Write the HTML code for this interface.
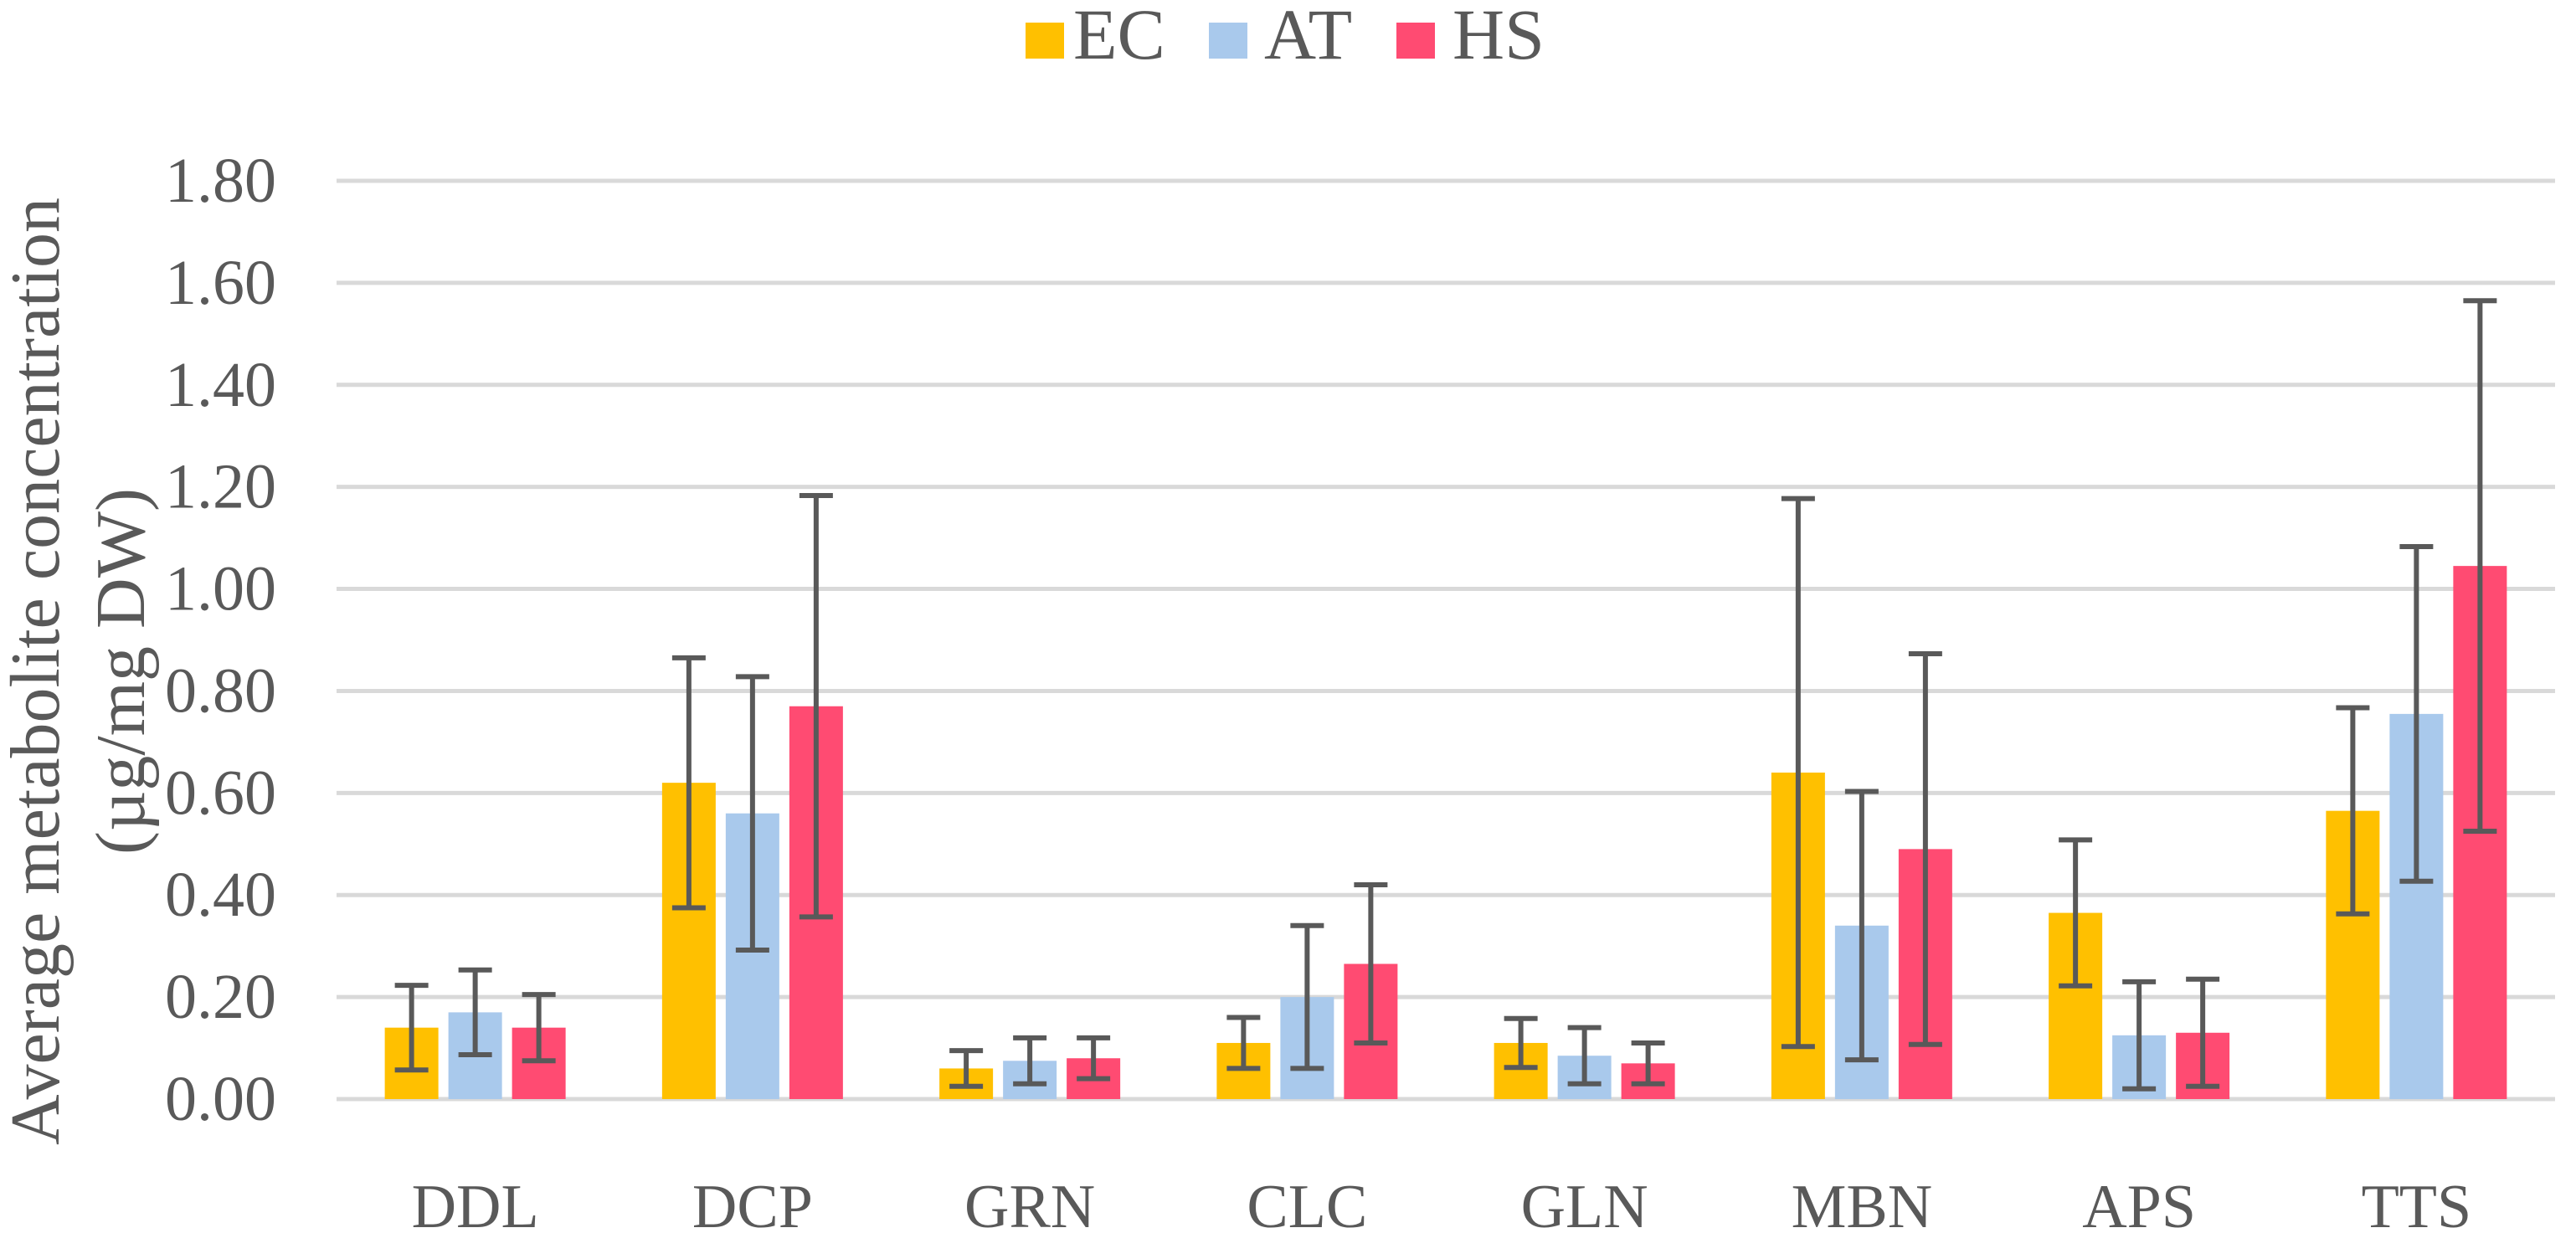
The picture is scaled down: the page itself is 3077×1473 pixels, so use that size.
<!DOCTYPE html>
<html><head><meta charset="utf-8">
<style>
html,body{margin:0;padding:0;background:#fff;}
svg{display:block;font-family:"Liberation Serif",serif;}
</style></head>
<body>
<svg id="chart" width="3077" height="1473" viewBox="0 0 3077 1473" xmlns="http://www.w3.org/2000/svg">
<g id="legend">
  <g><rect x="1225" y="27" width="46" height="43" fill="#FFC000"/><text x="1282" y="70" font-size="86" fill="#595959">EC</text></g>
  <g><rect x="1444" y="27" width="46" height="43" fill="#A9C9EC"/><text x="1510" y="70" font-size="86" fill="#595959">AT</text></g>
  <g><rect x="1668" y="27" width="46" height="43" fill="#FF4B72"/><text x="1735" y="70" font-size="86" fill="#595959">HS</text></g>
</g>
<text transform="translate(70,802) rotate(-90)" text-anchor="middle" font-size="84" fill="#595959">Average metabolite concentration</text>
<text transform="translate(172,802) rotate(-90)" text-anchor="middle" font-size="84" fill="#595959">(µg/mg DW)</text>
<g id="grid"></g>
<g id="bars"></g>
<g id="errs"></g>
<g id="xlabels"></g>
</svg>
<script>
const categories = ["DDL","DCP","GRN","CLC","GLN","MBN","APS","TTS"];
const seriesNames = ["EC","AT","HS"];
const ecValues = [0.14,0.62,0.06,0.11,0.11,0.64,0.365,0.565];
const ecErrors = [0.083,0.245,0.035,0.05,0.048,0.537,0.143,0.202];
const atValues = [0.17,0.56,0.075,0.20,0.085,0.34,0.125,0.755];
const atErrors = [0.083,0.268,0.045,0.14,0.055,0.263,0.105,0.328];
const hsValues = [0.14,0.77,0.08,0.265,0.07,0.49,0.13,1.045];
const hsErrors = [0.065,0.413,0.04,0.155,0.04,0.383,0.105,0.52];
const yTicks = [0,0.2,0.4,0.6,0.8,1.0,1.2,1.4,1.6,1.8];
const yTickLabels = ["0.00","0.20","0.40","0.60","0.80","1.00","1.20","1.40","1.60","1.80"];

const colors = ["#FFC000","#A9C9EC","#FF4B72"];
const NS="http://www.w3.org/2000/svg";
const x0=402, x1=3052, yZero=1313, yTop=216, yMax=1.8;
const groupW=(x1-x0)/categories.length, barW=64, gap=12;
function yScale(v){return yZero-(v/yMax)*(yZero-yTop);}
function xGroup(i){return x0+groupW*(i+0.5);}
function mk(tag,attrs,parent){const e=document.createElementNS(NS,tag);for(const k in attrs)e.setAttribute(k,attrs[k]);parent.appendChild(e);return e;}
const grid=document.getElementById('grid');
yTicks.forEach((t,i)=>{
  const y=yScale(t);
  const l=mk('line',{x1:x0,x2:x1,y1:y,y2:y,stroke:'#d9d9d9','stroke-width':5},grid);
  
  
  const tx=mk('text',{x:330,y:y+25,'text-anchor':'end','font-size':76,fill:'#595959'},grid);
  tx.textContent=yTickLabels[i];
  
  
});
const values=[ecValues,atValues,hsValues], errors=[ecErrors,atErrors,hsErrors];
const bars=document.getElementById('bars'), errs=document.getElementById('errs'), xl=document.getElementById('xlabels');
categories.forEach((c,i)=>{
  const cx=xGroup(i);
  for(let s=0;s<3;s++){
    const bx=cx+(s-1)*(barW+gap)-barW/2;
    const v=values[s][i], e=errors[s][i];
    const r=mk('rect',{x:bx,y:yScale(v),width:barW,height:yZero-yScale(v),fill:colors[s]},bars);
    
    
    const mx=bx+barW/2, yh=yScale(v+e), yl=yScale(Math.max(0,v-e));
    const g=mk('g',{stroke:'#595959','stroke-width':6},errs);
    
    
    mk('line',{x1:mx,x2:mx,y1:yh,y2:yl},g);
    mk('line',{x1:mx-20,x2:mx+20,y1:yh,y2:yh},g);
    mk('line',{x1:mx-20,x2:mx+20,y1:yl,y2:yl},g);
  }
  const t=mk('text',{x:cx,y:1466,'text-anchor':'middle','font-size':74,fill:'#595959'},xl);
  t.textContent=c;
  
  
});
</script>
</body></html>
